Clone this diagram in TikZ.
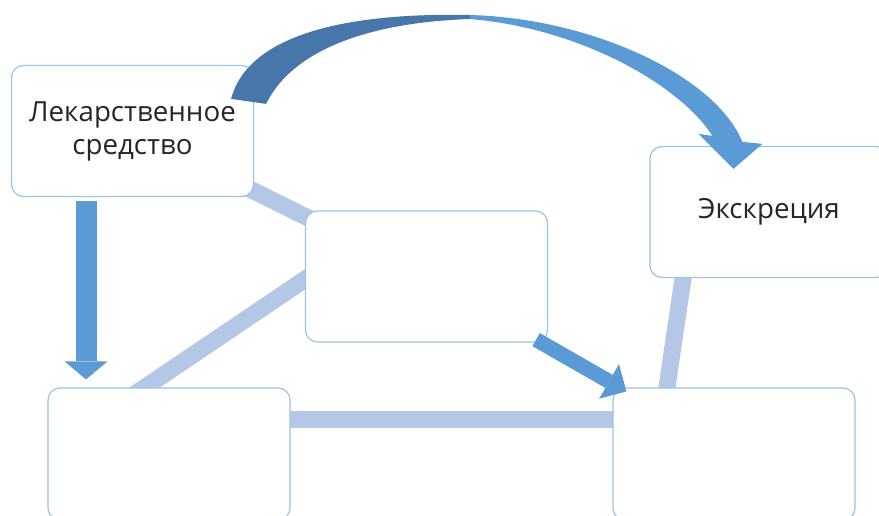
\documentclass[tikz,border=0pt]{standalone}
\usepackage{fontspec}
\setmainfont{Open Sans}
\usetikzlibrary{arrows.meta,backgrounds}

\definecolor{boxline}{RGB}{157,195,230}
\definecolor{linkblue}{RGB}{180,199,231}
\definecolor{arrowblue}{RGB}{91,155,213}
\definecolor{arrowdark}{RGB}{70,118,170}

\tikzset{
  box/.style={rectangle, rounded corners=12pt, draw=boxline, line width=1.2pt,
    fill=white, minimum width=242pt, minimum height=131pt, inner sep=0pt,
    align=center, text=black!85, font=\fontsize{27.7}{33}\selectfont},
  link/.style={linkblue, line width=17pt},
}

\begin{document}
\begin{tikzpicture}[x=1pt, y=-1pt]

  \useasboundingbox (0,0) rectangle (879,516);

  \node[box] (drug) at (132.5,131) {Лекарственное\\средство};
  \node[box] (mid)  at (426.5,276.5) {};
  \node[box, minimum width=238pt] (exc) at (769,212) {Экскреция};
  \node[box, minimum height=132pt] (bl) at (169,454) {};
  \node[box, minimum height=132pt] (br) at (734,454) {};

  \begin{scope}[on background layer]
    \fill[white] (0,0) rectangle (879,516);
    \draw[link] (drug.center) -- (mid.center); %% drug-mid
    \draw[link] ([shift={(25,-14)}]mid.west) -- ([shift={(-39,10)}]bl.north); %% mid-bl
    \draw[link] ([yshift=-32pt]bl.north) -- ([yshift=-32pt]br.north); %% bl-br
    \draw[link] ([shift={(-83,-20)}]exc.south) -- ([shift={(-70,20)}]br.north); %% exc-br
  \end{scope}

  %% drug->bl
  \draw[arrowblue, line width=21pt, -{Triangle[width=43pt,length=18pt,line width=0pt]},
    shorten <=4pt, shorten >=8pt] ([xshift=-46.5pt]drug.south) -- ([xshift=-83pt]bl.north);

  %% mid->br
  \draw[arrowblue, line width=15pt, -{Triangle[width=40pt,length=20pt,line width=0pt]}]
    ([shift={(-12,-3)}]mid.south east) -- ([shift={(14,4)}]br.north west);

  %% drug->exc
  \fill[arrowdark] ([shift={(-23,34)}]drug.north east) .. controls (245,45) and (320,12) .. (470,15)
    -- (470,19) .. controls (380,22) and (295,45) .. ([shift={(12,39)}]drug.north east) -- cycle;
  \fill[arrowblue] (469.5,15) .. controls (590,18) and (715,75) .. ([shift={(93,-4)}]exc.north west)
    -- ([shift={(113,-2)}]exc.north west) -- ([shift={(84,23)}]exc.north west)
    -- ([shift={(49,-12)}]exc.north west) -- ([shift={(63,-10)}]exc.north west)
    .. controls (680,85) and (580,28) .. (469.5,19) -- cycle;

\end{tikzpicture}
\end{document}
